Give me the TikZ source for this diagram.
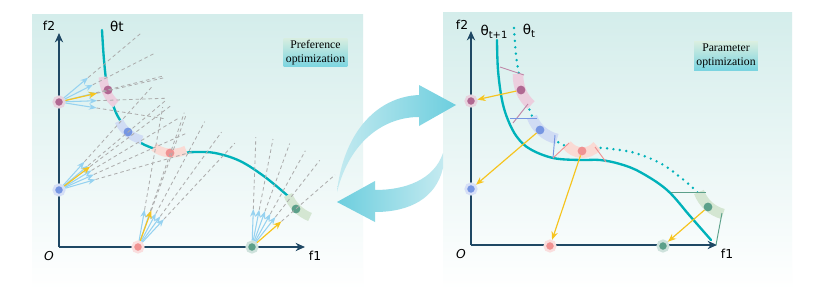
\documentclass[tikz,border=0pt]{standalone}
\usepackage{fontspec}
\setmainfont{Liberation Serif}
\newfontfamily\axisfont{DejaVu Sans}
\usepackage{xcolor}
\usepackage{tikz}
\usetikzlibrary{arrows.meta, positioning, calc}

\definecolor{axisblue}{RGB}{31,72,100}
\definecolor{curveteal}{RGB}{0,178,186}
\definecolor{fanblue}{RGB}{150,210,240}
\definecolor{fanyellow}{RGB}{246,196,30}
\definecolor{dashgray}{RGB}{172,172,172}
\definecolor{pinkdot}{RGB}{176,104,146}
\definecolor{pinkband}{RGB}{236,206,222}
\definecolor{bluedot}{RGB}{118,150,226}
\definecolor{blueband}{RGB}{208,220,244}
\definecolor{reddot}{RGB}{240,146,146}
\definecolor{redband}{RGB}{250,218,212}
\definecolor{greendot}{RGB}{92,160,138}
\definecolor{greenband}{RGB}{212,230,210}
\definecolor{panelteal}{RGB}{212,237,235}
\definecolor{boxtop}{RGB}{216,238,224}
\definecolor{boxbottom}{RGB}{122,212,224}
\definecolor{swirl}{RGB}{108,206,222}
\definecolor{swirllight}{RGB}{196,234,240}

% one fan: node, blue angles, yellow angle, dash length
\newcommand\drawfan[4]{%
  \foreach \a in {#2}{
    \draw[dashline] ($(#1)+(\a:38)$) -- ($(#1)+(\a:#4)$);
  }
  \draw[dashline] ($(#1)+(#3:39)$) -- ($(#1)+(#3:#4)$);
  \foreach \a in {#2}{
    \draw[fanarrow] (#1) -- ($(#1)+(\a:38)$);
  }
  \draw[yellowarrow] (#1) -- ($(#1)+(#3:39)$);
}

\begin{document}
\begin{tikzpicture}[x=0.03cm, y=-0.03cm,
  axisline/.style={draw=axisblue, line width=1.3pt, -{Stealth[length=8pt,width=7pt]}},
  axislabel/.style={font=\axisfont\fontsize{10.5}{12}\selectfont},
  thetalabel/.style={font=\axisfont\fontsize{11.5}{13}\selectfont},
  front/.style={draw=curveteal, line width=2pt, line cap=round},
  oldfront/.style={draw=curveteal, line width=2.3pt, line cap=round, dash pattern=on 0pt off 5.5pt},
  hband/.style={draw=#1, line width=7.5pt},
  proj/.style={draw=#1, line width=0.8pt},
  fdot/.style={circle, fill=#1, minimum size=7.5pt, inner sep=0pt},
  adot/.style={circle, fill=#1, draw=#1!30, line width=2.2pt, minimum size=9pt, inner sep=0pt},
  dashline/.style={draw=dashgray, line width=0.7pt, dash pattern=on 3pt off 2.5pt},
  fanarrow/.style={draw=fanblue, line width=0.9pt, -{Stealth[length=6.5pt,width=5pt]}},
  yellowarrow/.style={draw=fanyellow, line width=1pt, -{Stealth[length=7pt,width=5.5pt]}},
  optbox/.style={top color=boxtop, bottom color=boxbottom, align=center, inner sep=2pt, font=\fontsize{10}{11.5}\selectfont}
]
\fill[white] (0,0) rectangle (830,307);
\useasboundingbox (0,0) rectangle (830,307);

% panels
\shade[top color=panelteal, bottom color=white] (32,14) rectangle (363,290);
\shade[top color=panelteal, bottom color=white] (443,12) rectangle (792,290);

%%% left panel: preference optimization
\coordinate (lo) at (59,247);
\coordinate (ly) at (59,33);
\coordinate (lx) at (305,247);
\draw[axisline] (lo) -- (ly);
\draw[axisline] (lo) -- (lx);
\node[axislabel] (lf2) at (49,26) {f2};
\node[axislabel] (lf1) at (315,256) {f1};
\node[axislabel] (lO) at (49,256) {\itshape O};
\node[thetalabel] (lth) at (117,26) {θt};
\node[optbox] (lbox) at (315.5,52.5) {Preference\\optimization};

\draw[front] plot[smooth, tension=0.6] coordinates {(102,30) (104,60) (107,85) (113,105) (120,120) (135,139) (155,149) (175,153) (195,152) (215,153) (240,161) (265,177) (288,196)};

\draw[hband=pinkband] (103,77) .. controls (104,88) and (108,98) .. (116,104);
\draw[hband=blueband] (119,121) .. controls (123,130) and (131,137) .. (142,140);
\draw[hband=redband] (154,147) .. controls (162,154) and (176,155) .. (186,150);
\draw[hband=greenband] (288,195) .. controls (292,205) and (300,213) .. (310,217);

\node[fdot=pinkdot] (lpc) at (108,90) {};
\node[fdot=bluedot] (lbc) at (128,132) {};
\node[fdot=reddot] (lrc) at (170,153) {};
\node[fdot=greendot] (lgc) at (296,209) {};

\node[adot=pinkdot] (lp) at (59,102) {};
\node[adot=bluedot] (lb) at (59,190) {};
\node[adot=reddot] (lr) at (138,247) {};
\node[adot=greendot] (lg) at (252,247) {};

\drawfan{lp}{-40,-27,-14,-2,9}{-13}{108}
\drawfan{lb}{-48,-40,-31,-24,-16}{-37}{140}
\drawfan{lr}{-80,-71,-62,-54,-47}{-70}{142}
\drawfan{lg}{-88,-79,-70,-61,-52}{-41}{110}

%%% right panel: parameter optimization
\coordinate (ro) at (471,245);
\coordinate (ry) at (471,31);
\coordinate (rx) at (717,245);
\draw[axisline] (ro) -- (ry);
\draw[axisline] (ro) -- (rx);
\node[axislabel] (rf2) at (462,25) {f2};
\node[axislabel] (rf1) at (727,254) {f1};
\node[axislabel] (rO) at (461,254) {\itshape O};
\node[thetalabel] (rth1) at (494,32) {θ\raisebox{-2.5pt}{\fontsize{8.5}{9}\selectfont t+1}};
\node[thetalabel] (rth) at (529,31) {θ\raisebox{-2.5pt}{\fontsize{8.5}{9}\selectfont t}};
\node[optbox] (rbox) at (726,56) {Parameter\\optimization};

\draw[oldfront] plot[smooth, tension=0.6] coordinates {(514,28) (516,55) (519,75) (521,90) (528,106) (533,118) (540,130) (556,141) (568,147) (582,152) (596,148) (612,149) (635,153) (660,163) (680,177) (697,192) (708,207)};
\draw[front] plot[smooth, tension=0.6] coordinates {(497,40) (498,70) (502,100) (508,120) (517,137) (530,149) (553,158) (580,160) (600,160) (620,164) (640,172) (667,190) (690,216) (711,240)};

\draw[hband=pinkband, line width=9pt] (518,74) .. controls (518,87) and (522,97) .. (531,105);
\draw[hband=blueband, line width=9pt] (532,117) .. controls (536,128) and (545,136) .. (557,139);
\draw[hband=redband, line width=9pt] (567,145) .. controls (574,154) and (588,156) .. (597,146);
\draw[hband=greenband, line width=9pt] (699,192) .. controls (703,203) and (712,211) .. (723,214);

\draw[proj=pinkdot!80] (500,67) -- (524,75);
\draw[proj=pinkdot!80] (513,123) -- (528,104);
\draw[proj=bluedot] (510,118) -- (537,118);
\draw[proj=bluedot] (555,135) -- (553,158);
\draw[proj=reddot] (553,158) -- (569,143);
\draw[proj=reddot] (595,147) -- (606,162);
\draw[proj=greendot] (671,192) -- (706,192);
\draw[proj=greendot] (722,213) -- (716,245);

\node[fdot=pinkdot] (rpc) at (521,90) {};
\node[fdot=bluedot] (rbc) at (540,130) {};
\node[fdot=reddot] (rrc) at (582,151) {};
\node[fdot=greendot] (rgc) at (708,207) {};

\node[adot=pinkdot] (rp) at (471,101) {};
\node[adot=bluedot] (rb) at (471,189) {};
\node[adot=reddot] (rr) at (550,246) {};
\node[adot=greendot] (rg) at (663,246) {};

\draw[yellowarrow] (rpc) -- (rp);
\draw[yellowarrow] (rbc) -- (rb);
\draw[yellowarrow] (rrc) -- (rr);
\draw[yellowarrow] (rgc) -- (rg);

%%% swirl arrows between the panels
\shade[left color=swirllight, right color=swirl]
  (337,192) .. controls (343,135) and (375,97) .. (419,95) -- (419,85) -- (456,105) -- (419,126) -- (419,117)
  .. controls (385,117) and (350,140) .. (337,192) -- cycle;
\shade[left color=swirl, right color=swirllight]
  (443,168) .. controls (436,198) and (410,212) .. (375,212) -- (375,222) -- (337,202) -- (375,181) -- (375,190)
  .. controls (405,190) and (434,180) .. (443,153) -- cycle;
\end{tikzpicture}
\end{document}
